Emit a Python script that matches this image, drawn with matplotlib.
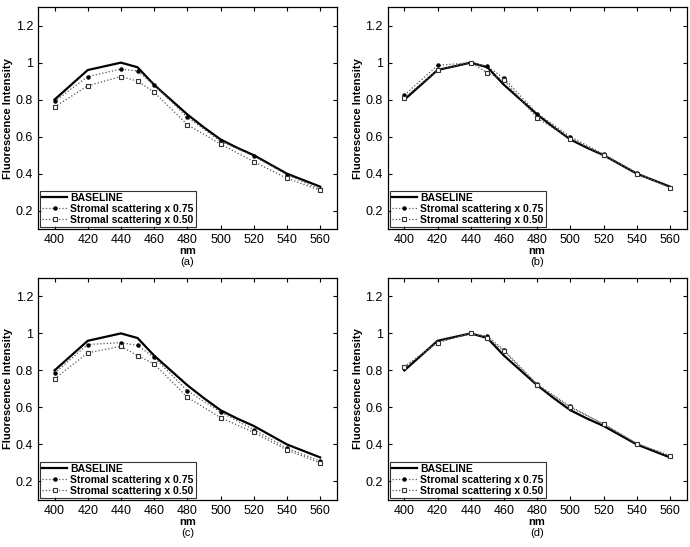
import numpy as np
import matplotlib
matplotlib.use('Agg')
import matplotlib.pyplot as plt

plt.rcParams['font.family'] = ['Liberation Sans', 'DejaVu Sans']

# wavelengths (nm)
wl_base = [400, 410, 420, 430, 440, 450, 460, 470, 480, 490, 500, 510, 520, 530, 540, 550, 560]
wl = [400, 420, 440, 450, 460, 480, 500, 520, 540, 560]

# baseline curve (same in every panel)
baseline = [0.80, 0.88, 0.96, 0.98, 1.00, 0.975, 0.88, 0.80, 0.72, 0.65, 0.585,
            0.54, 0.50, 0.45, 0.40, 0.365, 0.33]

# panel (a)
a_075 = [0.79, 0.925, 0.965, 0.955, 0.88, 0.705, 0.575, 0.495, 0.395, 0.315]
a_050 = [0.76, 0.875, 0.925, 0.90, 0.84, 0.665, 0.56, 0.465, 0.375, 0.31]
# panel (b)
b_075 = [0.825, 0.985, 1.0, 0.98, 0.915, 0.725, 0.60, 0.505, 0.405, 0.325]
b_050 = [0.81, 0.96, 1.0, 0.945, 0.905, 0.70, 0.59, 0.50, 0.40, 0.325]
# panel (c)
c_075 = [0.785, 0.94, 0.95, 0.935, 0.87, 0.69, 0.575, 0.48, 0.38, 0.31]
c_050 = [0.755, 0.895, 0.93, 0.88, 0.835, 0.655, 0.545, 0.465, 0.37, 0.30]
# panel (d)
d_075 = [0.815, 0.955, 1.0, 0.985, 0.91, 0.725, 0.605, 0.51, 0.405, 0.335]
d_050 = [0.82, 0.95, 1.0, 0.975, 0.905, 0.72, 0.60, 0.51, 0.405, 0.34]

panels = [('(a)', a_075, a_050), ('(b)', b_075, b_050),
          ('(c)', c_075, c_050), ('(d)', d_075, d_050)]

xticks = [400, 420, 440, 460, 480, 500, 520, 540, 560]
yticks = [0.2, 0.4, 0.6, 0.8, 1.0, 1.2]
ytick_labels = ['0.2', '0.4', '0.6', '0.8', '1', '1.2']

fig = plt.figure(figsize=(6.9, 5.47), dpi=100)

# axes positions [left, bottom, width, height] in figure fraction
positions = [[0.055, 0.581, 0.433, 0.406],
             [0.562, 0.581, 0.433, 0.406],
             [0.055, 0.086, 0.433, 0.406],
             [0.562, 0.086, 0.433, 0.406]]

for pos, (tag, s075, s050) in zip(positions, panels):
    ax = fig.add_axes(pos)
    ax.plot(wl_base, baseline, color='black', linewidth=1.6, label='BASELINE')
    ax.plot(wl, s075, color='#555555', linestyle=':', linewidth=0.9,
            marker='o', markersize=2.2, markerfacecolor='black',
            markeredgecolor='black', label='Stromal scattering x 0.75')
    ax.plot(wl, s050, color='#555555', linestyle=':', linewidth=0.9,
            marker='s', markersize=3, markerfacecolor='white',
            markeredgecolor='#333333', markeredgewidth=0.8,
            label='Stromal scattering x 0.50')

    ax.set_xlim(390, 570)
    ax.set_ylim(0.1, 1.3)
    ax.set_xticks(xticks)
    ax.set_yticks(yticks)
    ax.set_yticklabels(ytick_labels)
    ax.tick_params(direction='in', top=True, right=True, labelsize=9,
                   length=3, width=0.8)
    for sp in ax.spines.values():
        sp.set_linewidth(0.9)

    ax.set_ylabel('Fluorescence Intensity', fontsize=8, fontweight='bold',
                  labelpad=2)
    ax.set_xlabel('nm', fontsize=8, fontweight='bold', labelpad=0)
    ax.text(0.5, -0.125, tag, transform=ax.transAxes, ha='center', va='top',
            fontsize=8)

    leg = ax.legend(loc='lower left', prop={'weight': 'bold', 'size': 7.5},
                    frameon=True, fancybox=False, edgecolor='black',
                    borderpad=0.2, labelspacing=0.1, handlelength=2.4,
                    handletextpad=0.3, borderaxespad=0.2)
    leg.get_frame().set_linewidth(0.8)

plt.savefig('out.png', dpi=100)
